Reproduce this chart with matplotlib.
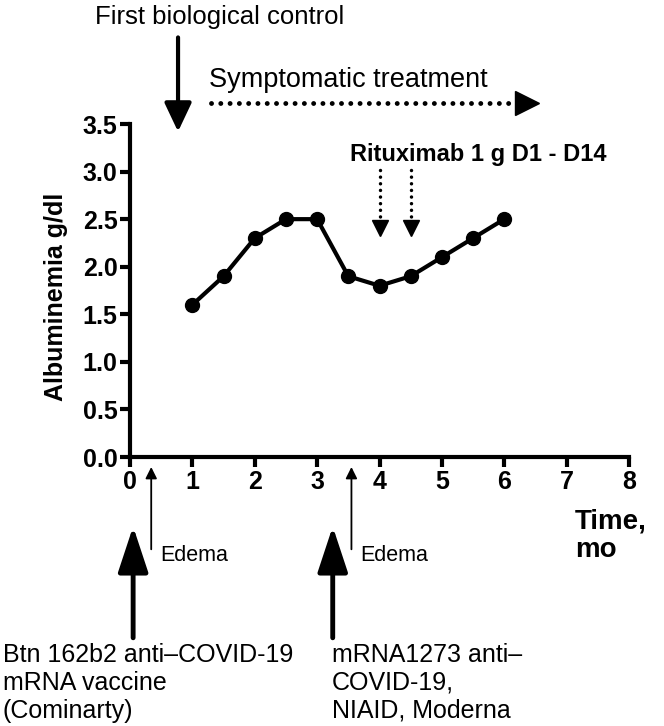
import matplotlib
matplotlib.use('Agg')
import matplotlib.pyplot as plt

plt.rcParams['font.family'] = ['Liberation Sans', 'DejaVu Sans']

# albuminemia over time
months = [1, 1.5, 2, 2.5, 3, 3.5, 4, 4.5, 5, 5.5, 6]
albumin = [1.6, 1.9, 2.3, 2.5, 2.5, 1.9, 1.8, 1.9, 2.1, 2.3, 2.5]

x_ticks = [0, 1, 2, 3, 4, 5, 6, 7, 8]
y_ticks = [0.0, 0.5, 1.0, 1.5, 2.0, 2.5, 3.0, 3.5]

rituximab_days = [4, 4.5]
edema_times = [0.34, 3.55]
vaccine_times = [0.05, 3.25]
vaccine_labels = ['Btn 162b2 anti\u2013COVID-19\nmRNA vaccine\n(Cominarty)',
                  'mRNA1273 anti\u2013\nCOVID-19,\nNIAID, Moderna']
vaccine_text_x = [-2.04, 3.24]

fig = plt.figure(figsize=(6.64, 7.26), dpi=100)
ax = fig.add_axes([0.1958, 0.3705, 0.7515, 0.4587])

ax.plot(months, albumin, color='black', lw=3, marker='o', ms=10, clip_on=False, zorder=5)

ax.set_xlim(0, 8)
ax.set_ylim(0, 3.5)
ax.set_xticks(x_ticks)
ax.set_yticks(y_ticks)
ax.set_xticklabels([str(t) for t in x_ticks], fontsize=18, fontweight='bold')
ax.set_yticklabels(['%.1f' % t for t in y_ticks], fontsize=18, fontweight='bold')
for s in ['top', 'right']:
    ax.spines[s].set_visible(False)
for s in ['left', 'bottom']:
    ax.spines[s].set_linewidth(3)
ax.tick_params(width=3, length=7, pad=2)
ax.set_ylabel('Albuminemia g/dl', fontsize=18, fontweight='bold')
ax.yaxis.set_label_coords(-0.125, 0.48)

ax.text(7.13, -0.83, 'Time,\nmo', fontsize=20, fontweight='bold', va='center',
        ha='left', linespacing=1.15)

# first biological control
ax.text(-0.56, 4.62, 'First biological control', fontsize=18.5, va='center')
ax.annotate('', xy=(0.77, 3.42), xytext=(0.77, 4.41), annotation_clip=False,
            arrowprops=dict(arrowstyle='-|>,head_length=0.55,head_width=0.26', lw=3,
                            color='black', mutation_scale=32, shrinkA=0, shrinkB=0))

# symptomatic treatment
ax.text(1.27, 3.96, 'Symptomatic treatment', fontsize=19.5, va='center')
ax.plot([1.3, 6.15], [3.72, 3.72], color='black', lw=3.5, ls=(0, (0.01, 1.9)),
        dash_capstyle='round', clip_on=False)
ax.plot([6.37], [3.72], marker='>', color='black', ms=17, clip_on=False)

# rituximab
ax.text(3.53, 3.18, 'Rituximab 1 g D1 - D14', fontsize=17, fontweight='bold', va='center')
for d in rituximab_days:
    ax.plot([d, d], [3.02, 2.5], color='black', lw=2.5, ls=(0, (0.01, 1.9)),
            dash_capstyle='round', clip_on=False)
    ax.plot([d], [2.41], marker='v', color='black', ms=11, clip_on=False)

# edema
for t in edema_times:
    ax.annotate('', xy=(t, -0.105), xytext=(t, -0.97), annotation_clip=False,
                arrowprops=dict(arrowstyle='-|>', lw=1.3, color='black', mutation_scale=17,
                                shrinkA=0, shrinkB=0))
    ax.text(t + 0.14, -1.04, 'Edema', fontsize=15.5, va='center')

# vaccines
for t, lab, tx in zip(vaccine_times, vaccine_labels, vaccine_text_x):
    ax.annotate('', xy=(t, -0.73), xytext=(t, -1.90), annotation_clip=False,
                arrowprops=dict(arrowstyle='-|>,head_length=1.0,head_width=0.33', lw=3.5,
                                color='black', mutation_scale=28, shrinkA=0, shrinkB=0))
    ax.text(tx, -1.95, lab, fontsize=18, va='top', ha='left', linespacing=1.22)

plt.savefig('out.png', dpi=100)
plt.close()
